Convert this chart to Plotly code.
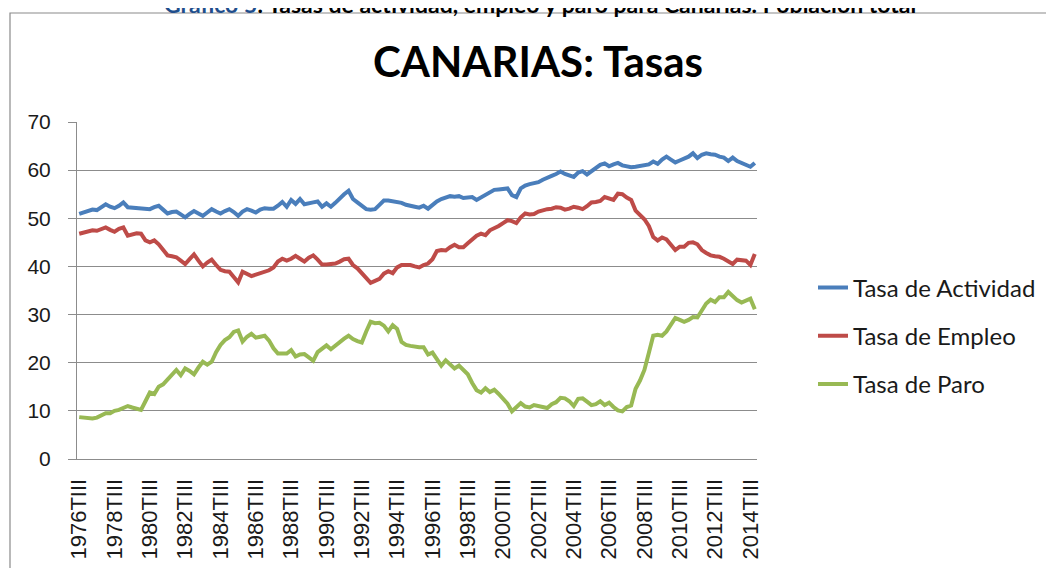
import plotly.graph_objects as go

# ---- categories (quarters 1976TIII .. 2014TIV) ----
roman = ["TI", "TII", "TIII", "TIV"]
quarters = []
_y, _q = 1976, 2
for _ in range(154):
    quarters.append(f"{_y}{roman[_q]}")
    _q += 1
    if _q == 4:
        _q = 0
        _y += 1
tick_labels = quarters[::8]

# ---- series values ----
actividad = [
    50.9, 51.2, 51.6, 51.8, 51.7, 52.2, 52.9, 52.4, 52.1, 52.6,
    53.3, 52.3, 52.2, 52.3, 52.2, 52.0, 51.9, 52.3, 52.6, 51.8,
    51.0, 51.3, 51.4, 50.8, 50.2, 50.9, 51.5, 51.0, 50.5, 51.2,
    51.9, 51.4, 51.0, 51.5, 51.9, 51.3, 50.5, 51.4, 51.9, 51.6,
    51.2, 51.8, 52.1, 52.0, 52.0, 52.6, 53.4, 52.4, 53.8, 53.0,
    54.0, 52.9, 53.2, 53.3, 53.5, 52.4, 53.1, 52.4, 53.2, 54.2,
    55.0, 55.7, 54.0, 53.3, 52.6, 51.9, 51.8, 51.9, 52.8, 53.7,
    53.7, 53.6, 53.5, 53.2, 52.8, 52.5, 52.4, 52.2, 52.6, 52.0,
    52.8, 53.5, 54.0, 54.4, 54.6, 54.5, 54.6, 54.2, 54.3, 54.4,
    53.8, 54.3, 54.8, 55.3, 55.9, 56.0, 56.1, 56.2, 54.8, 54.4,
    56.2, 56.8, 57.1, 57.2, 57.5, 58.0, 58.3, 58.8, 59.2, 59.7,
    59.2, 58.9, 58.6, 59.5, 59.8, 59.1, 59.8, 60.5, 61.1, 61.4,
    60.8, 61.2, 61.5, 61.0, 60.7, 60.6, 60.7, 60.8, 60.9, 61.2,
    61.8, 61.3, 62.2, 62.8, 62.2, 61.6, 62.0, 62.4, 62.8, 63.5,
    62.5, 63.2, 63.5, 63.3, 63.2, 62.8, 62.6, 61.9, 62.6, 61.9,
    61.5, 61.0, 60.7, 61.5,
]
empleo = [
    46.8, 47.0, 47.4, 47.5, 47.4, 47.8, 48.1, 47.6, 47.2, 47.8,
    48.1, 46.4, 46.6, 46.9, 46.8, 45.4, 45.0, 45.4, 44.6, 43.5,
    42.3, 42.1, 41.9, 41.2, 40.5, 41.5, 42.5, 41.2, 40.0, 40.8,
    41.4, 40.3, 39.3, 39.0, 38.9, 37.8, 36.7, 38.9, 38.4, 38.0,
    38.3, 38.6, 38.7, 39.2, 39.8, 41.0, 41.6, 41.2, 41.6, 42.2,
    41.6, 41.0, 41.8, 42.3, 41.4, 40.4, 40.4, 40.5, 40.6, 41.0,
    41.5, 41.6, 40.3, 39.6, 38.6, 37.5, 36.6, 37.0, 37.4, 38.5,
    39.0, 38.6, 39.8, 40.3, 40.4, 40.3, 40.0, 39.8, 40.3, 40.6,
    41.5, 43.2, 43.4, 43.3, 44.0, 44.5, 44.0, 44.0, 44.8, 45.6,
    46.4, 46.8, 46.5, 47.5, 47.9, 48.4, 49.0, 49.6, 49.4, 49.0,
    50.2, 51.0, 50.8, 50.9, 51.4, 51.7, 51.9, 52.0, 52.3, 52.2,
    51.8, 52.0, 52.4, 52.2, 51.9, 52.5, 53.3, 53.4, 53.6, 54.4,
    54.1, 53.8, 55.1, 55.0, 54.3, 53.8, 51.6, 50.7, 49.8, 48.4,
    46.1, 45.4, 46.0, 45.6, 44.6, 43.4, 44.1, 44.1, 44.9, 45.0,
    44.6, 43.4, 42.8, 42.3, 42.1, 42.0, 41.6, 41.0, 40.5, 41.4,
    41.3, 41.2, 40.3, 42.6,
]
paro = [
    8.7, 8.6, 8.4, 8.4, 8.6, 9.0, 9.5, 9.5, 10.0, 10.2,
    10.5, 11.0, 10.7, 10.5, 10.2, 12.0, 13.8, 13.5, 15.0, 15.5,
    16.6, 17.5, 18.5, 17.4, 18.8, 18.3, 17.6, 19.0, 20.2, 19.6,
    20.2, 22.2, 23.7, 24.7, 25.3, 26.4, 26.7, 24.4, 25.4, 26.0,
    25.2, 25.4, 25.6, 24.6, 23.0, 21.9, 21.8, 21.9, 22.6, 21.3,
    21.7, 21.8, 21.1, 20.4, 22.2, 23.0, 23.6, 22.8, 23.6, 24.4,
    25.0, 25.6, 24.9, 24.5, 24.2, 26.5, 28.5, 28.2, 28.3, 27.7,
    26.5, 27.8, 27.0, 24.3, 23.7, 23.5, 23.3, 23.2, 23.2, 21.7,
    22.1, 20.6, 19.4, 20.5, 19.7, 18.8, 19.4, 18.6, 17.6, 15.8,
    14.3, 13.8, 14.7, 13.9, 14.4, 13.5, 12.4, 11.5, 9.9, 10.8,
    11.6, 10.9, 10.7, 11.2, 11.0, 10.8, 10.6, 11.4, 11.8, 12.7,
    12.6, 12.0, 11.0, 12.5, 12.6, 11.9, 11.2, 11.4, 12.0, 11.2,
    11.7, 10.8, 10.1, 9.9, 10.8, 11.1, 14.6, 16.3, 18.5, 22.0,
    25.6, 25.8, 25.6, 26.5, 27.9, 29.3, 28.9, 28.5, 28.9, 29.5,
    29.4, 31.0, 32.3, 33.1, 32.6, 33.6, 33.6, 34.7, 33.8, 33.0,
    32.5, 32.9, 33.3, 31.1,
]

series_names = ["Tasa de Actividad", "Tasa de Empleo", "Tasa de Paro"]
series_colors = ["#4A7EBB", "#BE4B48", "#98B954"]

TXT_FONT = "Lato"
TICK_FONT = "Liberation Sans"
W, H = 1054, 568
OFF = 8  # page body margin: figure is drawn 8px right/down of the window origin
L, R, T, B = 69, 305, 114, 117

fig = go.Figure()
for name, vals, col, grp in zip(series_names, [actividad, empleo, paro], series_colors, ["a", "e", "p"]):
    fig.add_trace(go.Scatter(
        x=quarters, y=vals, mode="lines", name=name, legendgroup=grp,
        line=dict(color=col, width=4),
    ))

grid_col = "#8c8c8c"
plot_w = W - L - R
plot_h = H - T - B


def px_x(page_x):
    return (page_x - OFF - L) / plot_w


def px_y(page_y):
    return (H - B - (page_y - OFF)) / plot_h


fig.update_layout(
    width=W, height=H,
    margin=dict(l=L, r=R, t=T, b=B, pad=0),
    paper_bgcolor="white", plot_bgcolor="white",
    font=dict(family=TXT_FONT, color="#1a1a1a"),
    title=dict(
        text="<b>CANARIAS: Tasas</b>",
        font=dict(family=TXT_FONT, size=42, color="#000000"),
        x=(538 - OFF) / W, xref="container", xanchor="center",
        y=1 - (62 - OFF) / H, yref="container", yanchor="middle",
    ),
    showlegend=True,
    legend=dict(
        x=px_x(813), xanchor="left",
        y=px_y(336), yanchor="middle",
        font=dict(family=TXT_FONT, size=24, color="#1a1a1a"),
        tracegroupgap=14, bgcolor="rgba(0,0,0,0)",
    ),
    xaxis=dict(
        type="category", range=[-0.5, len(quarters) - 0.5],
        tickmode="array", tickvals=tick_labels, ticktext=tick_labels,
        tickangle=-90, showgrid=False, showline=True, linecolor=grid_col,
        linewidth=1, ticks="", tickfont=dict(family=TICK_FONT, size=22, color="#1a1a1a"),
        ticklabelstandoff=10,
    ),
    yaxis=dict(
        range=[0, 70], dtick=10, showgrid=True, gridcolor=grid_col, gridwidth=1,
        showline=True, linecolor=grid_col, linewidth=1, zeroline=False,
        ticks="outside", ticklen=8, tickcolor=grid_col,
        tickfont=dict(family=TICK_FONT, size=21, color="#1a1a1a"),
        ticklabelstandoff=13,
    ),
    shapes=[dict(
        type="rect", xref="paper", yref="paper", layer="below",
        x0=px_x(10), x1=px_x(1120),
        y0=px_y(640), y1=px_y(13),
        line=dict(color="#8a8a8a", width=1.2), fillcolor="rgba(0,0,0,0)",
    )],
    annotations=[dict(
        text="<b><span style='color:#1F4E8C'>Gráfico 5</span>: Tasas de actividad, empleo y paro para Canarias. Población total</b>",
        xref="paper", yref="paper",
        x=px_x(540), y=px_y(4),
        xanchor="center", yanchor="middle", showarrow=False,
        font=dict(family=TXT_FONT, size=23, color="#000000"),
    )],
)

fig.write_html("out.html")
